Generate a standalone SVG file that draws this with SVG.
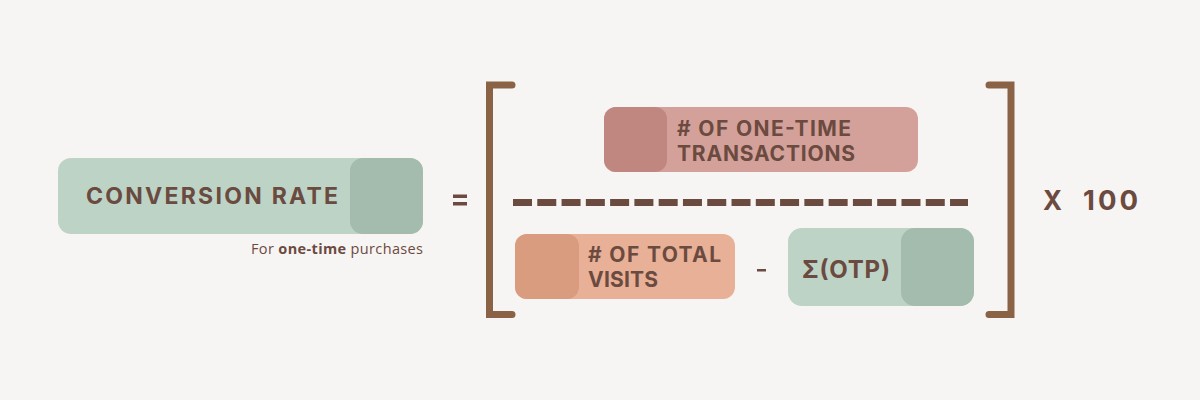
<svg xmlns="http://www.w3.org/2000/svg" width="1200" height="400" viewBox="0 0 1200 400">
<style>
.t{font-family:"Inter","Open Sans","Liberation Sans",sans-serif;font-weight:700;fill:#6B4A40;}
.sub{font-family:"Open Sans","Liberation Sans",sans-serif;font-size:14.5px;fill:#6B4A40;}
.br{fill:none;stroke:#8A6246;stroke-width:7;stroke-linecap:round;stroke-linejoin:miter;}
</style>
<rect width="1200" height="400" fill="#F7F5F3"/>
<g id="conversion-rate">
<rect x="58" y="158" width="365" height="76" rx="13" fill="#BDD3C6"/>
<rect x="350" y="158" width="73" height="76" rx="13" fill="#A3BCAD"/>
<text class="t" x="86" y="204" font-size="23" textLength="252" lengthAdjust="spacing">CONVERSION RATE</text>
<text class="sub" x="423" y="254" text-anchor="end" textLength="172" lengthAdjust="spacing">For <tspan font-weight="700">one-time</tspan> purchases</text>
</g>
<g id="equals">
<rect x="453" y="194.5" width="14" height="3.5" fill="#6B4A40"/>
<rect x="453" y="202" width="14" height="3.5" fill="#6B4A40"/>
</g>
<g id="brackets">
<path class="br" d="M512,85 H489.5 V314.5 H512"/>
<path class="br" d="M989,85 H1011 V314.5 H989"/>
</g>
<g id="one-time-transactions">
<rect x="604" y="107" width="314" height="65" rx="12" fill="#D4A19A"/>
<rect x="604" y="107" width="63" height="65" rx="12" fill="#C08780"/>
<text class="t" x="677" y="136" font-size="21" textLength="174" lengthAdjust="spacing"># OF ONE-TIME</text>
<text class="t" x="677" y="161" font-size="21" textLength="178" lengthAdjust="spacing">TRANSACTIONS</text>
</g>
<g id="connectors">
<line x1="513" y1="202.5" x2="968" y2="202.5" stroke="#6B4A40" stroke-width="7" stroke-dasharray="19 5.28"/>
</g>
<g id="total-visits">
<rect x="515" y="234" width="220" height="65" rx="12" fill="#E8B096"/>
<rect x="515" y="234" width="64" height="65" rx="12" fill="#DA9C7E"/>
<text class="t" x="588" y="262" font-size="21" textLength="133" lengthAdjust="spacing"># OF TOTAL</text>
<text class="t" x="588" y="287" font-size="21" textLength="70" lengthAdjust="spacing">VISITS</text>
</g>
<g id="minus">
<rect x="757" y="269" width="9" height="2.5" fill="#6B4A40"/>
</g>
<g id="otp">
<rect x="788" y="228" width="186" height="78" rx="14" fill="#BDD3C6"/>
<rect x="901" y="228" width="73" height="78" rx="14" fill="#A3BCAD"/>
<text class="t" x="802" y="278" font-size="24" textLength="88" lengthAdjust="spacing">Σ(OTP)</text>
</g>
<g id="times-100">
<text class="t" x="1043" y="210" font-size="27.5" textLength="19" lengthAdjust="spacingAndGlyphs">X</text>
<text class="t" x="1083" y="210" font-size="27.5" textLength="55" lengthAdjust="spacing">100</text>
</g>
</svg>
